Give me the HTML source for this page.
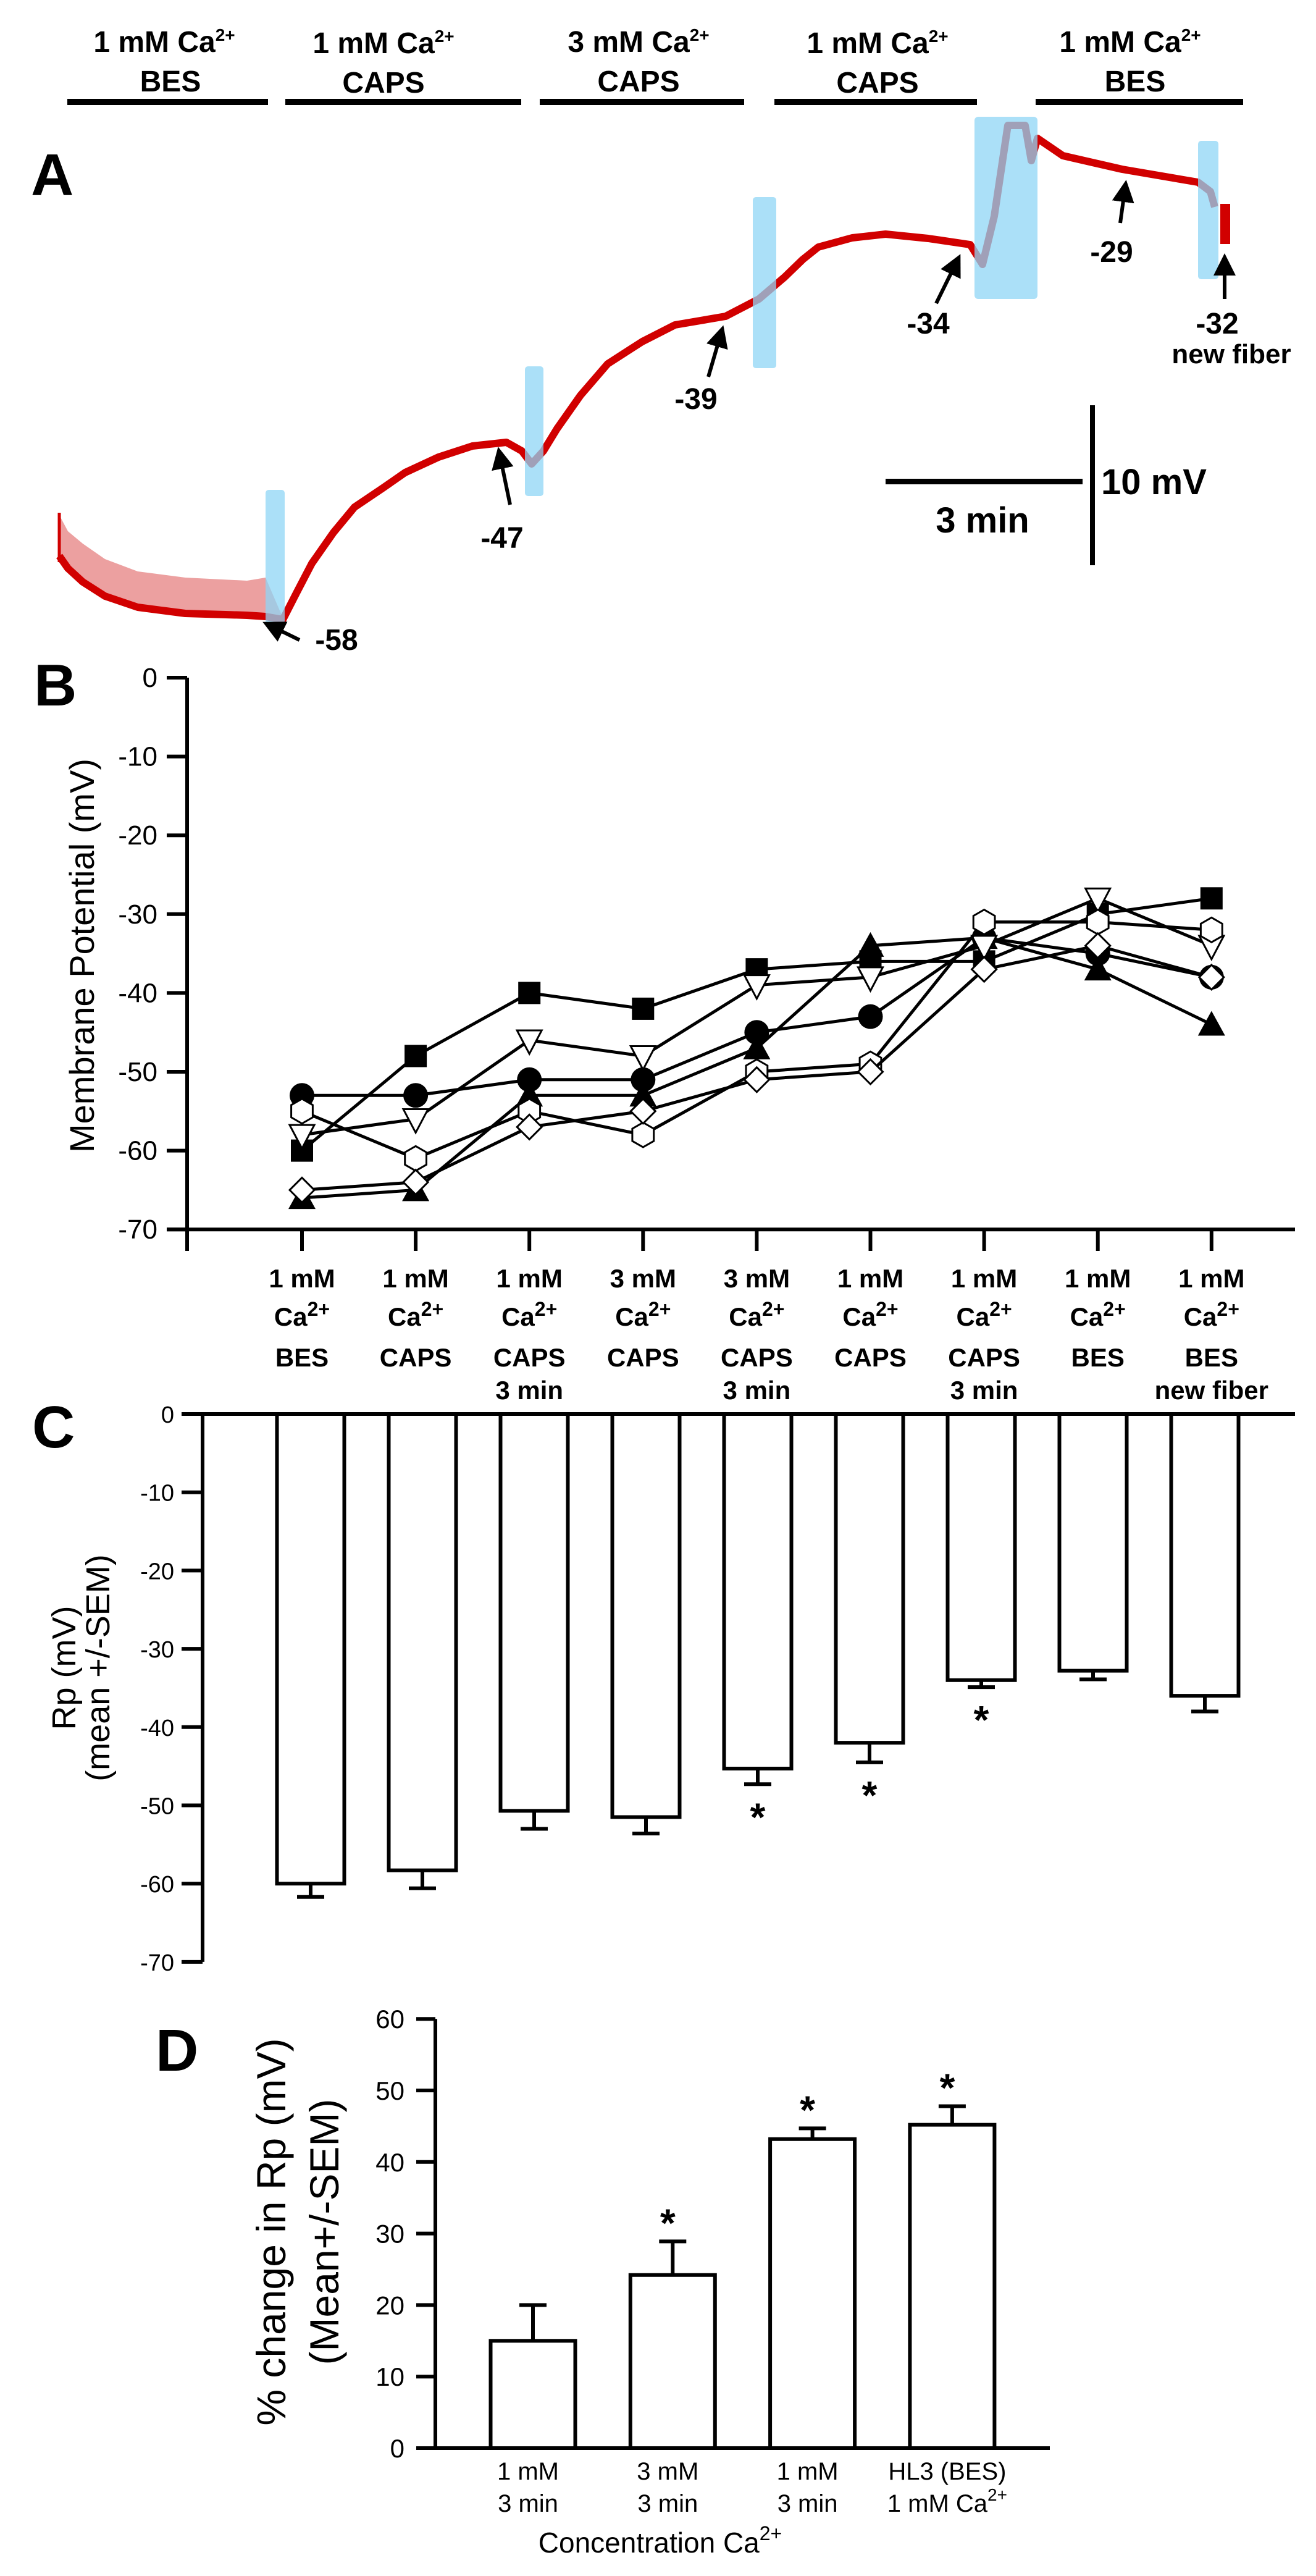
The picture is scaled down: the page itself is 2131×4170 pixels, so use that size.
<!DOCTYPE html>
<html><head><meta charset="utf-8"><style>
html,body{margin:0;padding:0;background:#fff;}
svg{display:block;font-family:"Liberation Sans",Arial,sans-serif;}
</style></head><body>
<svg id="fig" width="2131" height="4170" viewBox="0 0 2131 4170" xmlns="http://www.w3.org/2000/svg">
<defs>
<marker id="ah" markerWidth="6" markerHeight="6" refX="4" refY="3" orient="auto" markerUnits="strokeWidth"><path d="M0,0 L6,3 L0,6 z" fill="#000"/></marker>
</defs>
<!-- PANEL A -->
<g id="panelA">
<text x="50" y="316" font-size="96" font-weight="bold">A</text>
<g font-size="48" font-weight="bold" text-anchor="middle">
<text x="266" y="84">1 mM Ca<tspan font-size="28" dy="-18">2+</tspan></text><text x="276" y="148">BES</text>
<rect x="109" y="160" width="325" height="10"/>
<text x="621" y="86">1 mM Ca<tspan font-size="28" dy="-18">2+</tspan></text><text x="621" y="150">CAPS</text>
<rect x="462" y="160" width="382" height="10"/>
<text x="1034" y="84">3 mM Ca<tspan font-size="28" dy="-18">2+</tspan></text><text x="1034" y="148">CAPS</text>
<rect x="874" y="160" width="331" height="10"/>
<text x="1421" y="86">1 mM Ca<tspan font-size="28" dy="-18">2+</tspan></text><text x="1421" y="150">CAPS</text>
<rect x="1254" y="160" width="328" height="10"/>
<text x="1830" y="84">1 mM Ca<tspan font-size="28" dy="-18">2+</tspan></text><text x="1838" y="148">BES</text>
<rect x="1677" y="160" width="336" height="10"/>
</g>
<path d="M94,830 L110,860 L134,880 L170,905 L223,925 L300,935 L400,940 L430,935 L458,1000 L400,1000 L300,997 L223,988 L170,968 L134,945 L110,925 L94,905 Z" fill="#e06060" fill-opacity="0.6"/>
<polyline fill="none" stroke="#d10000" stroke-width="12" stroke-linejoin="round"
points="96,900 110,920 134,942 170,965 223,983 300,993 400,996 430,998 458,1003 480,960 505,912 540,862 574,821 620,790 656,765 710,740 765,722 820,716 845,730 861,751 880,730 902,694 940,640 984,589 1040,553 1093,526 1175,512 1229,484 1270,449 1300,420 1325,400 1380,385 1434,379 1503,386 1571,396 1591,428 1610,350 1632,203 1660,203 1670,260 1680,224 1721,252 1817,274 1940,295 1960,310 1967,335"/>
<line x1="96" y1="830" x2="96" y2="910" stroke="#d10000" stroke-width="5"/>
<rect x="1976" y="330" width="16" height="65" fill="#d10000"/>
<g fill="#8fd6f6" fill-opacity="0.75">
<rect x="430" y="793" width="31" height="217" rx="5"/>
<rect x="850" y="593" width="30" height="210" rx="5"/>
<rect x="1219" y="319" width="38" height="277" rx="5"/>
<rect x="1578" y="189" width="102" height="295" rx="6"/>
<rect x="1940" y="228" width="33" height="224" rx="5"/>
</g>
<g stroke="#000" stroke-width="6" marker-end="url(#ah)">
<line x1="485" y1="1036" x2="436" y2="1012"/>
<line x1="826" y1="817" x2="809" y2="735"/>
<line x1="1147" y1="610" x2="1168" y2="538"/>
<line x1="1516" y1="491" x2="1550" y2="422"/>
<line x1="1814" y1="361" x2="1822" y2="303"/>
<line x1="1983" y1="484" x2="1983" y2="422"/>
</g>
<g font-size="48" font-weight="bold" text-anchor="middle">
<text x="545" y="1052">-58</text>
<text x="813" y="887">-47</text>
<text x="1127" y="662">-39</text>
<text x="1503" y="540">-34</text>
<text x="1800" y="424">-29</text>
<text x="1971" y="540">-32</text>
<text x="1994" y="588" font-size="44">new fiber</text>
</g>
<g>
<rect x="1434" y="775" width="319" height="9"/>
<rect x="1765" y="656" width="8" height="259"/>
<text x="1591" y="862" font-size="58" font-weight="bold" text-anchor="middle">3 min</text>
<text x="1783" y="800" font-size="58" font-weight="bold">10 mV</text>
</g>
</g>
<g id="panelB"></g>
<g id="panelC"></g>
<g id="panelD"></g>
</svg>
<script>
// Panel B data
const catsB1 = ["1 mM","1 mM","1 mM","3 mM","3 mM","1 mM","1 mM","1 mM","1 mM"];
const catsB3 = ["BES","CAPS","CAPS","CAPS","CAPS","CAPS","CAPS","BES","BES"];
const catsB4 = ["","","3 min","","3 min","","3 min","","new fiber"];
const ticksB = [0,-10,-20,-30,-40,-50,-60,-70];
const sqFilled = [-60,-48,-40,-42,-37,-36,-36,-30,-28];
const circFilled = [-53,-53,-51,-51,-45,-43,-33,-35,-38];
const triFilled = [-66,-65,-53,-53,-47,-34,-33,-37,-44];
const triOpen = [-58,-56,-46,-48,-39,-38,-34,-28,-34];
const hexOpen = [-55,-61,-55,-58,-50,-49,-31,-31,-32];
const diaOpen = [-65,-64,-57,-55,-51,-50,-37,-34,-38];
// Panel C data
const valsC = [-60,-58.3,-50.7,-51.5,-45.3,-42,-34,-32.8,-36];
const errC = [1.7,2.3,2.3,2.1,2,2.5,0.9,1.1,2];
const sigC = [false,false,false,false,true,true,true,false,false];
const ticksC = [0,-10,-20,-30,-40,-50,-60,-70];
// Panel D data
const catsD1 = ["1 mM","3 mM","1 mM","HL3 (BES)"];
const catsD2 = ["3 min","3 min","3 min","1 mM Ca"];
const valsD = [15,24.2,43.2,45.2];
const errD = [5,4.7,1.5,2.6];
const sigD = [false,true,true,true];
const ticksD = [0,10,20,30,40,50,60];

const NS="http://www.w3.org/2000/svg";
function mk(tag,attrs,parent){const e=document.createElementNS(NS,tag);for(const k in attrs)e.setAttribute(k,attrs[k]);parent.appendChild(e);return e;}

// ---------- B ----------
const gB=document.getElementById('panelB');
const xB=i=>489+i*184.1, yB=v=>1097-v*12.76;
let t=mk('text',{x:55,y:1142,'font-size':96,'font-weight':'bold'},gB);t.textContent='B';


let ax=mk('path',{d:`M303,${yB(0)} L303,2025 M270,${yB(-70)} L2097,${yB(-70)}`,stroke:'#000','stroke-width':6,fill:'none'},gB);


ticksB.forEach(v=>{
  const l=mk('line',{x1:270,x2:303,y1:yB(v),y2:yB(v),stroke:'#000','stroke-width':6},gB);
  
  
  const tx=mk('text',{x:255,y:yB(v)+15,'font-size':44,'text-anchor':'end'},gB);tx.textContent=v;
  
  
});
catsB1.forEach((c,i)=>{
  const l=mk('line',{x1:xB(i),x2:xB(i),y1:yB(-70),y2:2025,stroke:'#000','stroke-width':6},gB);
  
  
  const g=mk('g',{'font-size':42,'font-weight':'bold','text-anchor':'middle'},gB);
  
  
  mk('text',{x:xB(i),y:2084},g).textContent=c;
  const ca=mk('text',{x:xB(i),y:2146},g);ca.innerHTML='Ca<tspan font-size="32" dy="-16">2+</tspan>';
  mk('text',{x:xB(i),y:2212},g).textContent=catsB3[i];
  if(catsB4[i]) mk('text',{x:xB(i),y:2265},g).textContent=catsB4[i];
});
const yl=mk('text',{transform:'translate(152,1547) rotate(-90)','font-size':56,'text-anchor':'middle'},gB);yl.textContent='Membrane Potential (mV)';


function marker(type,x,y,g){
  const s=20;let e;
  if(type==='sq') e=mk('rect',{x:x-s+2,y:y-s+2,width:2*s-4,height:2*s-4,fill:'#000'},g);
  else if(type==='circ') e=mk('circle',{cx:x,cy:y,r:s,fill:'#000'},g);
  else if(type==='tri') e=mk('polygon',{points:`${x},${y-s-2} ${x+s+2},${y+s-2} ${x-s-2},${y+s-2}`,fill:'#000'},g);
  else if(type==='tdown') e=mk('polygon',{points:`${x-s},${y-s+4} ${x+s},${y-s+4} ${x},${y+s+2}`,fill:'#fff',stroke:'#000','stroke-width':3},g);
  else if(type==='hex') e=mk('polygon',{points:`${x},${y-s} ${x+s*0.87},${y-s/2} ${x+s*0.87},${y+s/2} ${x},${y+s} ${x-s*0.87},${y+s/2} ${x-s*0.87},${y-s/2}`,fill:'#fff',stroke:'#000','stroke-width':3},g);
  else e=mk('polygon',{points:`${x},${y-s} ${x+s},${y} ${x},${y+s} ${x-s},${y}`,fill:'#fff',stroke:'#000','stroke-width':3},g);
  
  
}
[[sqFilled,'sq'],[circFilled,'circ'],[triFilled,'tri'],[triOpen,'tdown'],[hexOpen,'hex'],[diaOpen,'dia']].forEach(([arr,type])=>{
  const g=mk('g',{},gB);
  
  
  const pl=mk('polyline',{points:arr.map((v,i)=>xB(i)+','+yB(v)).join(' '),fill:'none',stroke:'#000','stroke-width':5},g);
  
  
  arr.forEach((v,i)=>marker(type,xB(i),yB(v),g));
});

// ---------- C ----------
const gC=document.getElementById('panelC');
const xC=i=>503+i*181, yC=v=>2289-v*12.67;
t=mk('text',{x:52,y:2343,'font-size':96,'font-weight':'bold'},gC);t.textContent='C';


ax=mk('path',{d:`M328,${yC(0)} L328,${yC(-70)} M294,${yC(0)} L2097,${yC(0)}`,stroke:'#000','stroke-width':6,fill:'none'},gC);


ticksC.forEach(v=>{
  const l=mk('line',{x1:294,x2:328,y1:yC(v),y2:yC(v),stroke:'#000','stroke-width':6},gC);
  
  
  const tx=mk('text',{x:282,y:yC(v)+14,'font-size':38,'text-anchor':'end'},gC);tx.textContent=v;
  
  
});
valsC.forEach((v,i)=>{
  const x=xC(i),w=109;
  const eb=mk('path',{d:`M${x},${yC(v)} L${x},${yC(v-errC[i])} M${x-22},${yC(v-errC[i])} L${x+22},${yC(v-errC[i])}`,stroke:'#000','stroke-width':6,fill:'none'},gC);
  
  
  const r=mk('rect',{x:x-w/2,y:yC(0),width:w,height:yC(v)-yC(0),fill:'#fff',stroke:'#000','stroke-width':6},gC);
  
  
  if(sigC[i]){const s=mk('text',{x:x,y:yC(v-errC[i])+75,'font-size':64,'font-weight':'bold','text-anchor':'middle'},gC);s.textContent='*';
  
  }
});
let g2=mk('g',{'font-size':54,'text-anchor':'middle'},gC);


mk('text',{transform:'translate(122,2700) rotate(-90)'},g2).textContent='Rp  (mV)';
mk('text',{transform:'translate(177,2700) rotate(-90)'},g2).textContent='(mean +/-SEM)';

// ---------- D ----------
const gD=document.getElementById('panelD');
const xD=i=>863+i*226.3, yD=v=>3963-v*11.58;
t=mk('text',{x:252,y:3352,'font-size':96,'font-weight':'bold'},gD);t.textContent='D';


ax=mk('path',{d:`M705,${yD(60)} L705,${yD(0)} M674,${yD(0)} L1700,${yD(0)}`,stroke:'#000','stroke-width':6,fill:'none'},gD);


ticksD.forEach(v=>{
  const l=mk('line',{x1:674,x2:705,y1:yD(v),y2:yD(v),stroke:'#000','stroke-width':6},gD);
  
  
  const tx=mk('text',{x:655,y:yD(v)+15,'font-size':42,'text-anchor':'end'},gD);tx.textContent=v;
  
  
});
valsD.forEach((v,i)=>{
  const x=xD(i),w=137;
  const eb=mk('path',{d:`M${x},${yD(v)} L${x},${yD(v+errD[i])} M${x-22},${yD(v+errD[i])} L${x+22},${yD(v+errD[i])}`,stroke:'#000','stroke-width':6,fill:'none'},gD);
  
  
  const r=mk('rect',{x:x-w/2,y:yD(v),width:w,height:yD(0)-yD(v),fill:'#fff',stroke:'#000','stroke-width':6},gD);
  
  
  if(sigD[i]){const s=mk('text',{x:x-8,y:yD(v+errD[i])-8,'font-size':64,'font-weight':'bold','text-anchor':'middle'},gD);s.textContent='*';
  
  }
  const lg=mk('g',{'font-size':40,'text-anchor':'middle'},gD);
  
  
  mk('text',{x:x-8,y:4014},lg).textContent=catsD1[i];
  const l2=mk('text',{x:x-8,y:4066},lg);l2.textContent=catsD2[i];
  if(i===3){const sp=mk('tspan',{'font-size':28,dy:-18},l2);sp.textContent='2+';}
});
const xt=mk('text',{x:1069,y:4132,'font-size':46,'text-anchor':'middle'},gD);xt.innerHTML='Concentration Ca<tspan font-size="32" dy="-20">2+</tspan>';


g2=mk('g',{'font-size':66,'text-anchor':'middle'},gD);


mk('text',{transform:'translate(462,3613) rotate(-90)'},g2).textContent='% change in Rp (mV)';
mk('text',{transform:'translate(548,3613) rotate(-90)'},g2).textContent='(Mean+/-SEM)';
</script>
</body></html>
